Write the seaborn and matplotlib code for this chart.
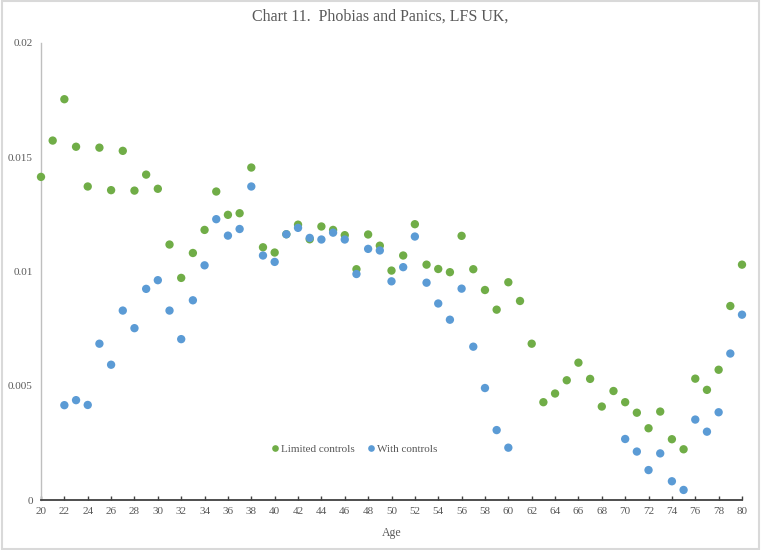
import pandas as pd
import seaborn as sns
import matplotlib.pyplot as plt
from matplotlib.patches import Rectangle

# --- data ---
ages_limited = list(range(20, 81))
limited_controls = [
    0.01414, 0.01573, 0.01754, 0.01546, 0.01372, 0.01542, 0.01356, 0.01528,
    0.01354, 0.01424, 0.01362, 0.01118, 0.00972, 0.01081, 0.01182, 0.01350,
    0.01248, 0.01255, 0.01455, 0.01106, 0.01083, 0.01163, 0.01205, 0.01141,
    0.01197, 0.01182, 0.01159, 0.01010, 0.01162, 0.01113, 0.01004, 0.01070,
    0.01207, 0.01030, 0.01011, 0.00997, 0.01156, 0.01010, 0.00919, 0.00833,
    0.00953, 0.00871, 0.00684, 0.00428, 0.00466, 0.00524, 0.00601, 0.00530,
    0.00409, 0.00477, 0.00428, 0.00382, 0.00314, 0.00387, 0.00266, 0.00222,
    0.00531, 0.00482, 0.00570, 0.00849, 0.01030,
]

ages_with = list(range(22, 61)) + list(range(70, 81))
with_controls = [
    0.00415, 0.00437, 0.00416, 0.00684, 0.00592, 0.00829, 0.00752, 0.00924,
    0.00962, 0.00829, 0.00704, 0.00874, 0.01027, 0.01229, 0.01157, 0.01186,
    0.01372, 0.01070, 0.01042, 0.01163, 0.01191, 0.01147, 0.01140, 0.01170,
    0.01140, 0.00989, 0.01099, 0.01092, 0.00957, 0.01019, 0.01153, 0.00951,
    0.00860, 0.00789, 0.00925, 0.00671, 0.00490, 0.00306, 0.00229,
    0.00267, 0.00212, 0.00131, 0.00204, 0.00082, 0.00044, 0.00352, 0.00299,
    0.00384, 0.00641, 0.00811,
]

x_ticks = list(range(20, 81, 2))
y_ticks = [0, 0.005, 0.01, 0.015, 0.02]
y_tick_labels = ["0", "0.005", "0.01", "0.015", "0.02"]

df = pd.concat([
    pd.DataFrame({"Age": ages_limited, "value": limited_controls,
                  "series": "Limited controls"}),
    pd.DataFrame({"Age": ages_with, "value": with_controls,
                  "series": "With controls"}),
])

sns.set_theme(style="white")
plt.rcParams['font.family'] = ['Liberation Serif', 'DejaVu Serif']
grey = "#595959"

fig = plt.figure(figsize=(7.61, 5.5), dpi=100)
ax = fig.add_axes([41 / 761, 50 / 550, 701 / 761, 457 / 550])

sns.scatterplot(data=df, x="Age", y="value", hue="series",
                palette={"Limited controls": "#70AD47", "With controls": "#5B9BD5"},
                s=36, linewidth=0, clip_on=False, zorder=3, ax=ax)

ax.set_xlim(20, 80)
ax.set_ylim(0, 0.02)
ax.set_xticks(x_ticks)
ax.set_yticks(y_ticks)
ax.set_yticklabels(y_tick_labels)
ax.tick_params(axis="x", direction="in", length=3, width=1, color="#404040",
               labelsize=8, labelcolor=grey, pad=5, bottom=True)
ax.tick_params(axis="y", length=0, labelsize=8, labelcolor=grey, pad=6)
ax.set_xlabel("Age", fontsize=8.5, color=grey, labelpad=8)
ax.set_ylabel("")

for side in ["top", "right"]:
    ax.spines[side].set_visible(False)
ax.spines["left"].set_color("#BFBFBF")
ax.spines["left"].set_linewidth(1)
ax.spines["bottom"].set_color("#404040")
ax.spines["bottom"].set_linewidth(1.3)

leg = ax.legend(loc="center", bbox_to_anchor=(0.445, 0.111), ncol=2, frameon=False,
                fontsize=8, handletextpad=-0.1, columnspacing=0.9, markerscale=0.8,
                handlelength=1.2)
for t in leg.get_texts():
    t.set_color(grey)

fig.text(0.5, 1 - 17 / 550, "Chart 11.  Phobias and Panics, LFS UK,",
         ha="center", va="center", fontsize=11.5, color=grey)

fig.patches.append(Rectangle((0.002, 0.002), 0.996, 0.996, transform=fig.transFigure,
                             fill=False, edgecolor="#D9D9D9", linewidth=1.5))

fig.savefig("out.png", dpi=100)
